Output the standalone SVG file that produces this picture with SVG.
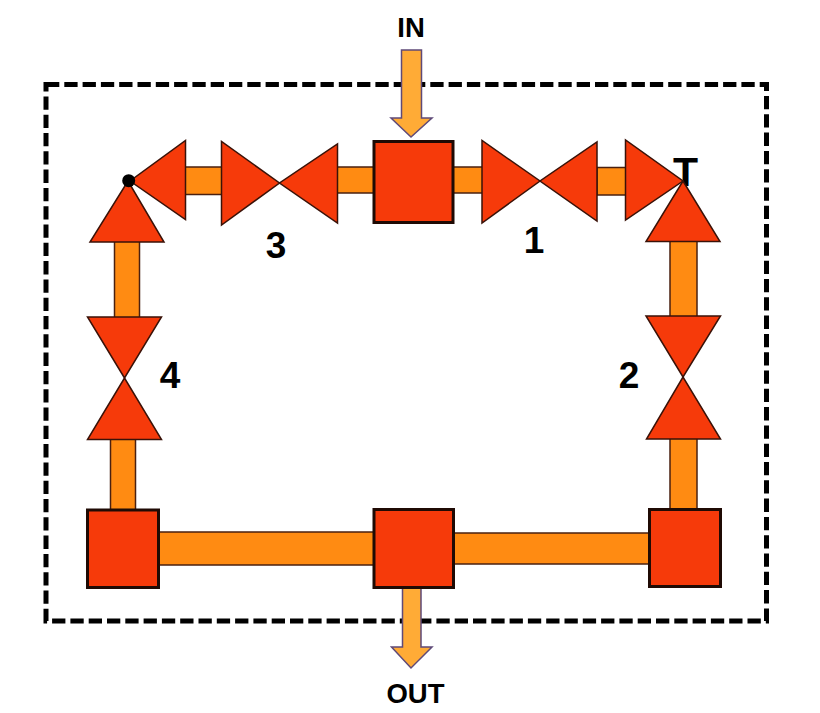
<svg xmlns="http://www.w3.org/2000/svg" width="820" height="713" viewBox="0 0 820 713">
<style>
.b{fill:none;stroke:#000;stroke-width:5;stroke-dasharray:13.3 5}
.p{fill:#FF8B12;stroke:#4a2010;stroke-width:1.5}
.t{fill:#F63A0A;stroke:#3a1208;stroke-width:1.5;stroke-linejoin:miter}
.s{fill:#F63A0A;stroke:#1f0a04;stroke-width:3}
.a{fill:#FFAB36;stroke:#5f4a78;stroke-width:1.5}
text{font-family:"Liberation Sans",Arial,sans-serif;font-weight:700;fill:#000;text-anchor:middle}
.n{font-size:37px}
.l{font-size:27.500px}
</style>
<rect id="boundary" class="b" x="46" y="84.5" width="720.5" height="536.5"/>
<g id="connectors">
<rect class="p" x="453" y="167" width="30" height="26"/>
<rect class="p" x="597" y="167.5" width="29" height="27.5"/>
<rect class="p" x="185" y="167" width="37" height="27.5"/>
<rect class="p" x="337" y="167" width="37" height="26"/>
<rect class="p" x="670" y="241" width="27" height="76"/>
<rect class="p" x="670" y="438" width="27" height="72"/>
<rect class="p" x="114.500" y="241" width="25" height="77"/>
<rect class="p" x="110.500" y="439" width="25" height="71.500"/>
<rect class="p" x="158" y="532" width="216" height="33"/>
<rect class="p" x="453" y="533" width="197" height="31"/>
<polygon id="in-arrow" class="a" points="401.500,50 421.500,50 421.500,118 432,118 411,137 391,118 401.500,118"/>
<polygon id="out-arrow" class="a" points="402.500,588 421,588 421,647 432,647 411,668 391.500,647 402.500,647"/>
</g>
<text id="label-t" x="685.500" y="186" font-size="41">T</text>
<g id="valve-1"><polygon class="t" points="482,140.500 482,223 540,181"/><polygon class="t" points="597,142 597,221 540,181"/><polygon class="t" points="625.500,140 625.500,220 683,181"/><text class="n" x="534" y="253">1</text></g>
<g id="valve-2"><polygon class="t" points="646,241.500 720,241.500 683,181"/><polygon class="t" points="646,316 720.500,316 683,377"/><polygon class="t" points="646.500,439 720.500,439 683,377"/><text class="n" x="629" y="388">2</text></g>
<g id="valve-3"><polygon class="t" points="185.500,140.500 185.500,219.500 130,181"/><polygon class="t" points="221.500,141.500 221.500,225 279.500,183"/><polygon class="t" points="337.500,144 337.500,223 279.500,183"/><text class="n" x="276" y="258">3</text></g>
<g id="valve-4"><polygon class="t" points="90,242 164,242 128,181"/><polygon class="t" points="87.500,317 161.500,317 124.500,378"/><polygon class="t" points="87.500,439.500 161.500,439.500 124.500,378"/><text class="n" x="170" y="388">4</text><circle cx="128.700" cy="180.700" r="6.500" fill="#000"/></g>
<rect id="node-top" class="s" x="374" y="141.500" width="79" height="81"/>
<rect id="node-left" class="s" x="87.500" y="510" width="71" height="77.500"/>
<rect id="node-center" class="s" x="374" y="509.500" width="79.500" height="78"/>
<rect id="node-right" class="s" x="649.500" y="509.500" width="71" height="77"/>
<text id="label-in" class="l" x="411" y="37">IN</text>
<text id="label-out" class="l" x="415.500" y="703">OUT</text>
</svg>
